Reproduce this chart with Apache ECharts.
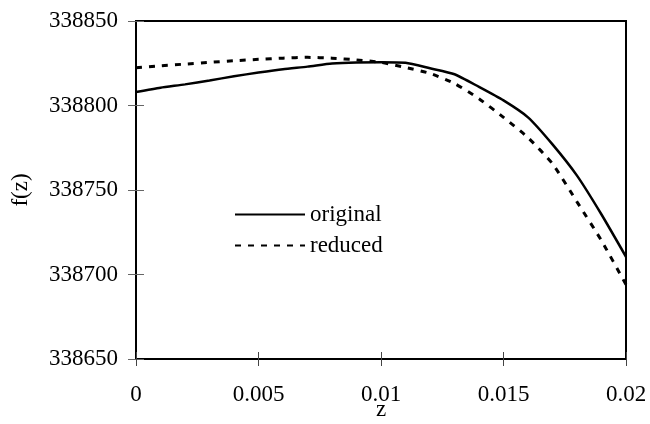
<!DOCTYPE html>
<html>
<head>
<meta charset="utf-8">
<script src="https://cdn.jsdelivr.net/npm/echarts@6/dist/echarts.min.js"></script>
<style>
  html, body { margin: 0; padding: 0; background: #fff; }
  #chart { width: 650px; height: 424px; }
</style>
</head>
<body>
<div id="chart"></div>
<script>
// z sample points and the two f(z) curves
const zValues = [0, 0.001, 0.002, 0.003, 0.004, 0.005, 0.006, 0.007, 0.008, 0.009, 0.010,
                 0.011, 0.012, 0.013, 0.014, 0.015, 0.016, 0.017, 0.018, 0.019, 0.020];
const originalValues = [338808, 338810.5, 338812.5, 338814.8, 338817.3, 338819.5, 338821.5, 338823, 338824.8, 338825.5, 338825.6,
                        338825.3, 338822, 338818.5, 338811, 338803, 338793, 338777, 338758.5, 338735.5, 338710.5];
const reducedValues = [338822.3, 338823.5, 338824.5, 338825.5, 338826.5, 338827.3, 338828, 338828.5, 338828, 338827, 338825.5,
                       338822.5, 338819, 338813, 338804, 338793, 338781, 338765.5, 338743, 338720, 338694];
const seriesNames = ['original', 'reduced'];
const xTicks = { min: 0, max: 0.02, step: 0.005 };
const yTicks = { min: 338650, max: 338850, step: 50 };

const FONT = 'Liberation Serif';
const pairs = vals => zValues.map((z, i) => [z, vals[i]]);

const chart = echarts.init(document.getElementById('chart'), null, { renderer: 'canvas' });

const baseX = {
  type: 'value', min: xTicks.min, max: xTicks.max, interval: xTicks.step,
  position: 'bottom',
  splitLine: { show: false },
  axisLine: { show: true, onZero: false, lineStyle: { color: '#000', width: 2 } }
};
const baseY = {
  type: 'value', min: yTicks.min, max: yTicks.max, interval: yTicks.step,
  position: 'left',
  splitLine: { show: false },
  axisLine: { show: true, onZero: false, lineStyle: { color: '#000', width: 2 } }
};

chart.setOption({
  animation: false,
  backgroundColor: '#fff',
  textStyle: { fontFamily: FONT, color: '#000' },
  grid: {
    left: 136, top: 21, right: 24, bottom: 65,
    outerBoundsMode: 'none', containLabel: false,
    show: true, borderColor: '#000', borderWidth: 2, backgroundColor: 'transparent'
  },
  legend: {
    orient: 'vertical',
    left: 234, top: 203,
    padding: 0,
    itemWidth: 70, itemHeight: 14, itemGap: 8,
    data: seriesNames,
    itemStyle: { opacity: 0 },
    textStyle: { fontFamily: FONT, fontSize: 23, color: '#000' }
  },
  xAxis: [
    Object.assign({}, baseX, {
      name: 'z', nameLocation: 'middle', nameGap: 39, nameMoveOverlap: false,
      nameTextStyle: { fontFamily: FONT, fontSize: 23, color: '#000' },
      axisTick: { show: true, inside: false, length: 7, lineStyle: { color: '#444', width: 1 } },
      axisLabel: { fontFamily: FONT, fontSize: 23, color: '#000', margin: 24,
                   formatter: v => String(+v.toFixed(3)) }
    }),
    Object.assign({}, baseX, {
      axisTick: { show: true, inside: true, length: 7, lineStyle: { color: '#444', width: 1 } },
      axisLabel: { show: false }
    })
  ],
  yAxis: [
    Object.assign({}, baseY, {
      name: 'f(z)', nameLocation: 'middle', nameGap: 104, nameRotate: 90, nameMoveOverlap: false,
      nameTextStyle: { fontFamily: FONT, fontSize: 23, color: '#000' },
      axisTick: { show: true, inside: false, length: 8, lineStyle: { color: '#666', width: 1 } },
      axisLabel: { fontFamily: FONT, fontSize: 23, color: '#000', margin: 18,
                   formatter: v => String(v) }
    }),
    Object.assign({}, baseY, {
      axisTick: { show: true, inside: true, length: 8, lineStyle: { color: '#666', width: 1 } },
      axisLabel: { show: false }
    })
  ],
  series: [
    {
      name: seriesNames[0], type: 'line', data: pairs(originalValues),
      symbol: 'none', smooth: 0.2,
      lineStyle: { color: '#000', width: 2.5, type: 'solid' },
      itemStyle: { color: '#000' }
    },
    {
      name: seriesNames[1], type: 'line', data: pairs(reducedValues),
      symbol: 'none', smooth: 0.2,
      lineStyle: { color: '#000', width: 3, type: [6, 7] },
      itemStyle: { color: '#000' }
    }
  ]
});
</script>
</body>
</html>
